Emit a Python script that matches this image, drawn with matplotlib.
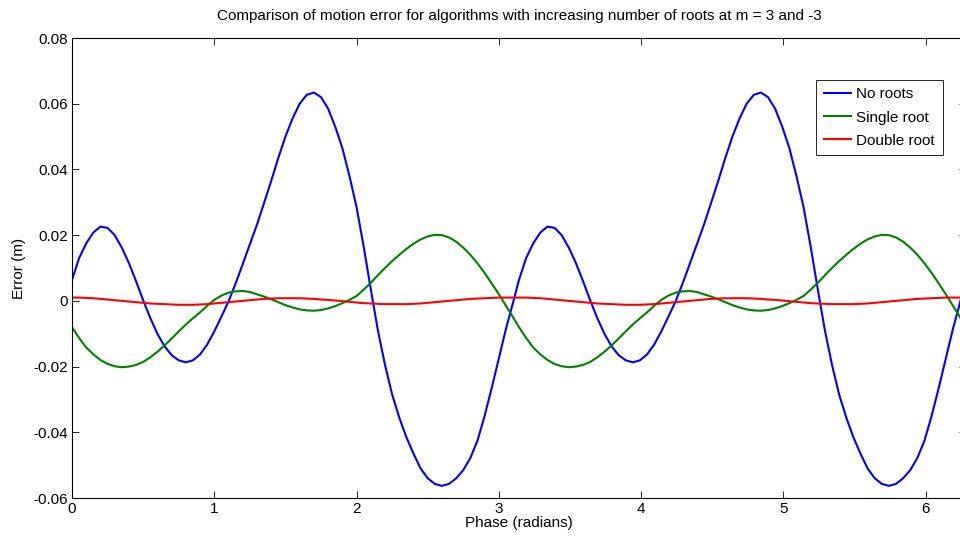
import numpy as np
import matplotlib
matplotlib.use("Agg")
import matplotlib.pyplot as plt

plt.rcParams['font.family'] = ['Liberation Sans', 'DejaVu Sans']

# one period of the phase sweep (0 .. 3.10 rad, step 0.05); the plot repeats it after pi
phase_step = 0.05
no_roots = [
    0.0064, 0.0130, 0.0175, 0.0208, 0.0226, 0.0222, 0.0200, 0.0162, 0.0115, 0.0060,
    0.0002, -0.0052, -0.0100, -0.0138, -0.0165, -0.0181, -0.0187, -0.0181, -0.0163, -0.0133,
    -0.0093, -0.0048, -0.0002, 0.0053, 0.0112, 0.0172, 0.0232, 0.0298, 0.0365, 0.0435,
    0.0500, 0.0555, 0.0600, 0.0627, 0.0634, 0.0620, 0.0585, 0.0530, 0.0465, 0.0380,
    0.0285, 0.0165, 0.0035, -0.0090, -0.0195, -0.0285, -0.0355, -0.0415, -0.0465, -0.0510,
    -0.0540, -0.0557, -0.0563, -0.0557, -0.0540, -0.0515, -0.0478, -0.0425, -0.0350, -0.0265,
    -0.0175, -0.0085, -0.0005,
]
single_root = [
    -0.0080, -0.0113, -0.0142, -0.0163, -0.0180, -0.0192, -0.0199, -0.0202, -0.0200, -0.0195,
    -0.0186, -0.0172, -0.0155, -0.0136, -0.0115, -0.0093, -0.0072, -0.0053, -0.0035, -0.0015,
    0.0003, 0.0016, 0.0025, 0.0029, 0.0030, 0.0027, 0.0020, 0.0013, 0.0005, -0.0004,
    -0.0013, -0.0020, -0.0026, -0.0029, -0.0030, -0.0028, -0.0023, -0.0016, -0.0007, 0.0003,
    0.0015, 0.0034, 0.0055, 0.0078, 0.0100, 0.0121, 0.0140, 0.0158, 0.0174, 0.0187,
    0.0196, 0.0201, 0.0200, 0.0193, 0.0180, 0.0162, 0.0140, 0.0114, 0.0085, 0.0053,
    0.0020, -0.0015, -0.0050,
]
double_root = [
    0.0010, 0.0010, 0.0009, 0.0008, 0.0006, 0.0004, 0.0002, 0.0000, -0.0002, -0.0004,
    -0.0006, -0.0008, -0.0009, -0.0010, -0.0011, -0.0012, -0.0012, -0.0012, -0.0011, -0.0010,
    -0.0008, -0.0006, -0.0004, -0.0002, 0.0000, 0.0002, 0.0004, 0.0006, 0.0007, 0.0008,
    0.0008, 0.0008, 0.0008, 0.0007, 0.0006, 0.0004, 0.0003, 0.0001, -0.0001, -0.0003,
    -0.0005, -0.0007, -0.0008, -0.0009, -0.0010, -0.0010, -0.0010, -0.0010, -0.0009, -0.0008,
    -0.0006, -0.0004, -0.0002, 0.0000, 0.0002, 0.0004, 0.0006, 0.0007, 0.0008, 0.0009,
    0.0010, 0.0010, 0.0010,
]
labels = ['No roots', 'Single root', 'Double root']
colors = ['#0000ff', '#008000', '#ff0000']

half = np.arange(len(no_roots)) * phase_step
phase = np.concatenate([half, half + np.pi, [2 * np.pi]])


def full_sweep(vals):
    return np.concatenate([vals, vals, vals[:1]])


fig = plt.figure(figsize=(9.6, 5.38), dpi=100)
# axes run a little past the right edge of the picture, as in the original
ax = fig.add_axes([72 / 960, 40 / 538, 894 / 960, 460 / 538])

for vals, lab, col in zip([no_roots, single_root, double_root], labels, colors):
    ax.plot(phase, full_sweep(vals), color=col, lw=1.5, label=lab)

ax.set_xlim(0, 2 * np.pi)
ax.set_ylim(-0.06, 0.08)
ax.set_xticks(range(0, 7))
yt = np.arange(-0.06, 0.081, 0.02)
ax.set_yticks(yt)
ax.set_yticklabels(['0' if abs(v) < 1e-9 else f'{v:.2f}' for v in yt])
ax.tick_params(direction='in', length=5, width=0.6, top=True, right=True, labelsize=11, pad=3)
for s in ax.spines.values():
    s.set_linewidth(0.8)

ax.set_title('Comparison of motion error for algorithms with increasing number of roots at m = 3 and -3',
             fontsize=11, pad=13)
ax.set_xlabel('Phase (radians)', fontsize=11, labelpad=0)
ax.set_ylabel('Error (m)', fontsize=11, labelpad=5)

leg = ax.legend(loc='upper right', bbox_to_anchor=(0.974, 0.909), borderaxespad=0,
                fontsize=11, fancybox=False, framealpha=1, edgecolor='black',
                handlelength=1.8, handletextpad=0.35, labelspacing=0.6, borderpad=0.5)
leg.get_frame().set_linewidth(0.6)

fig.savefig('out.png', dpi=100)
